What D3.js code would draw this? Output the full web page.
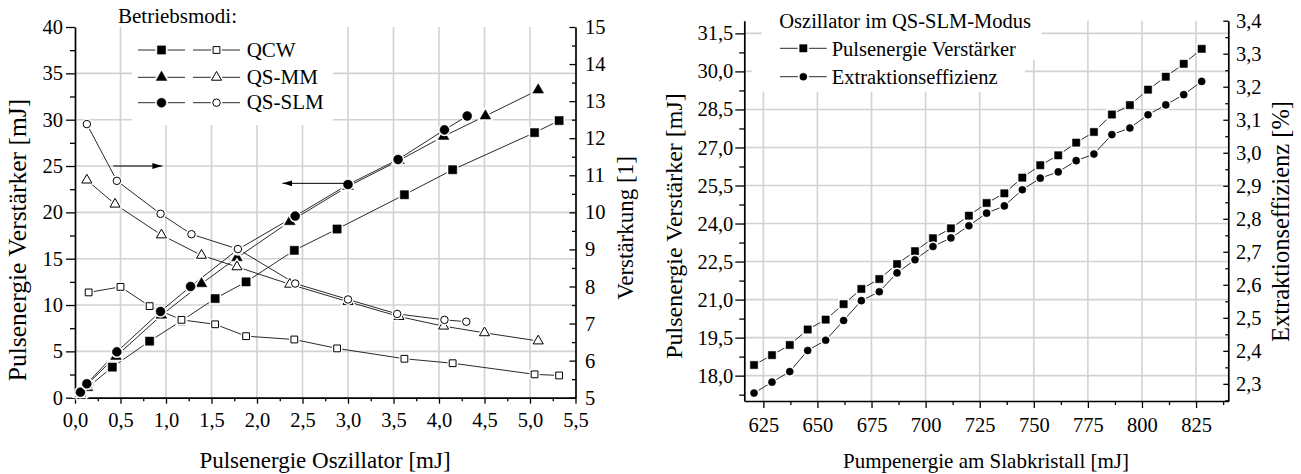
<!DOCTYPE html>
<html><head><meta charset="utf-8">
<script src="https://cdn.jsdelivr.net/npm/d3@7"></script>
<style>
body{margin:0;background:#fff;}
</style></head><body>
<svg id="chart" width="1301" height="474"></svg>
<script>
// ---------- left panel: amplifier output vs. oscillator energy ----------
const oscTicks = [0, 0.5, 1, 1.5, 2, 2.5, 3, 3.5, 4, 4.5, 5, 5.5];
const ampTicksL = [0, 5, 10, 15, 20, 25, 30, 35, 40];
const gainTicks = [5, 6, 7, 8, 9, 10, 11, 12, 13, 14, 15];

const qcwOsc  = [0.07, 0.15, 0.41, 0.82, 1.17, 1.54, 1.88, 2.41, 2.88, 3.62, 4.15, 5.05, 5.32];
const qcwAmp  = [0.35, 1.2, 3.3, 6.1, 8.3, 10.7, 12.5, 15.9, 18.2, 21.9, 24.6, 28.6, 29.9];
const qcwGainOsc = [0.15, 0.50, 0.82, 1.17, 1.54, 1.88, 2.41, 2.88, 3.62, 4.15, 5.05, 5.32];
const qcwGain = [7.84, 7.99, 7.47, 7.10, 6.98, 6.66, 6.57, 6.33, 6.05, 5.93, 5.63, 5.60];

const mmOsc  = [0.06, 0.13, 0.45, 0.95, 1.39, 1.78, 2.36, 3.0, 3.56, 4.05, 4.51, 5.09];
const mmAmp  = [0.5, 1.4, 4.45, 8.9, 12.3, 15.1, 19.0, 22.8, 25.6, 28.2, 30.4, 33.2];
const mmGainOsc = [0.13, 0.44, 0.95, 1.39, 1.78, 2.36, 3.0, 3.56, 4.05, 4.5, 5.09];
const mmGain = [10.87, 10.22, 9.39, 8.84, 8.53, 8.06, 7.59, 7.19, 6.93, 6.75, 6.53];

const slmOsc  = [0.06, 0.13, 0.46, 0.94, 1.27, 1.79, 2.42, 3.0, 3.55, 4.06, 4.31];
const slmAmp  = [0.6, 1.5, 4.95, 9.3, 12.0, 16.0, 19.6, 23.0, 25.7, 28.9, 30.4];
const slmGainOsc = [0.13, 0.46, 0.94, 1.28, 1.79, 2.42, 3.0, 3.54, 4.06, 4.30];
const slmGain = [12.38, 10.85, 9.96, 9.41, 9.01, 8.08, 7.65, 7.26, 7.10, 7.05];

const modeNames = ["QCW", "QS-MM", "QS-SLM"];

// ---------- right panel: QS-SLM oscillator, amplifier vs. pump energy ----------
const pumpTicks = [625, 650, 675, 700, 725, 750, 775, 800, 825];
const ampTicksR = [18, 19.5, 21, 22.5, 24, 25.5, 27, 28.5, 30, 31.5];
const effTicks = [2.3, 2.4, 2.5, 2.6, 2.7, 2.8, 2.9, 3.0, 3.1, 3.2, 3.3, 3.4];

const pumpEnergy = [620.7, 629.0, 637.2, 645.5, 653.8, 662.1, 670.3, 678.6, 686.8, 695.1,
  703.4, 711.7, 720.0, 728.2, 736.4, 744.7, 753.0, 761.3, 769.6, 777.8, 786.1, 794.4,
  802.8, 811.0, 819.3, 827.6];
const ampEnergy = [18.42, 18.81, 19.21, 19.82, 20.21, 20.82, 21.42, 21.81, 22.40, 22.91,
  23.42, 23.81, 24.31, 24.81, 25.19, 25.81, 26.30, 26.69, 27.19, 27.61, 28.30, 28.67,
  29.28, 29.79, 30.30, 30.89];
const extraction = [2.272, 2.305, 2.337, 2.401, 2.432, 2.492, 2.552, 2.579, 2.636, 2.676,
  2.716, 2.742, 2.779, 2.817, 2.839, 2.888, 2.923, 2.942, 2.976, 2.996, 3.055, 3.075,
  3.115, 3.145, 3.176, 3.216];

const svg = d3.select("#chart");
const FONT = "'Liberation Serif', 'Times New Roman', Tinos";
const GRID = "#d2d2d2", INK = "#000", LINE = "#2a2a2a";
const TICK_FS = 20.5;
const comma1 = d => d3.format(".1f")(d).replace(".", ",");
const int0 = d => d3.format("d")(d);
const minorBetween = (ticks, lo, hi) => {
  const step = ticks[1] - ticks[0], out = [];
  for (let t = ticks[0] - step / 2; t <= hi + 1e-9; t += step) if (t >= lo - 1e-9) out.push(+t.toFixed(4));
  return out;
};

function addAxis(maker, tx, ty, scale, major, minor, fmt, majLen, minLen, pad, fs) {
  const gm = svg.append("g").attr("transform", `translate(${tx},${ty})`)
    .call(maker(scale).tickValues(minor).tickSize(minLen).tickSizeOuter(0).tickFormat(""));
  gm.select(".domain").remove();
  gm.selectAll("line").attr("stroke", INK).attr("stroke-width", 1.3);
  const g = svg.append("g").attr("transform", `translate(${tx},${ty})`)
    .call(maker(scale).tickValues(major).tickSize(majLen).tickSizeOuter(0).tickPadding(pad).tickFormat(fmt));
  g.attr("font-family", null).attr("font-size", null);
  g.select(".domain").attr("stroke", INK).attr("stroke-width", 1.7);
  g.selectAll("line").attr("stroke", INK).attr("stroke-width", 1.3);
  g.selectAll("text").attr("fill", INK).style("font-family", FONT).style("font-size", fs + "px");
  return g;
}

function drawLine(xs, ys, sx, sy) {
  svg.append("path")
    .attr("d", d3.line()(xs.map((x, i) => [sx(x), sy(ys[i])])))
    .attr("fill", "none").attr("stroke", LINE).attr("stroke-width", 1);
}
function drawMarks(xs, ys, sx, sy, type, size, filled) {
  const sym = d3.symbol().type(type).size(size);
  const g = svg.append("g");
  xs.forEach((x, i) => {
    const t = `translate(${sx(x)},${sy(ys[i])})`;
    g.append("path").attr("d", sym()).attr("transform", t)
      .attr("fill", "#fff").attr("stroke", "#fff").attr("stroke-width", 3.5);
    g.append("path").attr("d", sym()).attr("transform", t)
      .attr("fill", filled ? INK : "#fff").attr("stroke", INK).attr("stroke-width", filled ? 0.5 : 1);
  });
}
function legendItem(x0, x1, y, type, size, filled) {
  svg.append("line").attr("x1", x0).attr("x2", x1).attr("y1", y).attr("y2", y)
    .attr("stroke", LINE).attr("stroke-width", 1);
  const cx = (x0 + x1) / 2;
  svg.append("path").attr("d", d3.symbol().type(type).size(size)())
    .attr("transform", `translate(${cx},${y})`)
    .attr("fill", "#fff").attr("stroke", "#fff").attr("stroke-width", 4);
  svg.append("path").attr("d", d3.symbol().type(type).size(size)())
    .attr("transform", `translate(${cx},${y})`)
    .attr("fill", filled ? INK : "#fff").attr("stroke", INK).attr("stroke-width", filled ? 0.5 : 1);
}
function label(x, y, txt, fs, opts = {}) {
  const t = svg.append("text").attr("x", x).attr("y", y)
    .style("font-family", FONT).style("font-size", fs + "px")
    .attr("fill", INK).attr("text-anchor", opts.anchor || "start").text(txt);
  if (opts.rotate) t.attr("transform", `rotate(-90,${x},${y})`);
  return t;
}

// ===================== left panel =====================
const xL = d3.scaleLinear().domain([0, 5.5]).range([75, 575.5]);
const yL = d3.scaleLinear().domain([0, 40]).range([397.7, 27]);
const yG = d3.scaleLinear().domain([5, 15]).range([397.7, 27]);

oscTicks.slice(1, -1).forEach(v => svg.append("line")
  .attr("x1", xL(v)).attr("x2", xL(v)).attr("y1", yL(40)).attr("y2", yL(0))
  .attr("stroke", GRID).attr("stroke-width", 1.6));
ampTicksL.slice(1, -1).forEach(v => svg.append("line")
  .attr("x1", xL(0)).attr("x2", xL(5.5)).attr("y1", yL(v)).attr("y2", yL(v))
  .attr("stroke", GRID).attr("stroke-width", 1.6));

// legend background
svg.append("rect").attr("x", 132).attr("y", 26).attr("width", 201).attr("height", 99).attr("fill", "#fff");

addAxis(d3.axisBottom, 0, yL(0), xL, oscTicks, minorBetween(oscTicks, 0, 5.5), comma1, 6, 3.5, 9, TICK_FS);
addAxis(d3.axisLeft, xL(0), 0, yL, ampTicksL, minorBetween(ampTicksL, 0, 40), int0, 9, 5, 3, TICK_FS);
addAxis(d3.axisRight, xL(5.5), 0, yG, gainTicks, minorBetween(gainTicks, 5, 15), int0, -6, -3.5, 9.5, TICK_FS);

drawLine(qcwOsc, qcwAmp, xL, yL);
drawLine(mmOsc, mmAmp, xL, yL);
drawLine(slmOsc, slmAmp, xL, yL);
drawLine(qcwGainOsc, qcwGain, xL, yG);
drawLine(mmGainOsc, mmGain, xL, yG);
drawLine(slmGainOsc, slmGain, xL, yG);

drawMarks(qcwOsc, qcwAmp, xL, yL, d3.symbolSquare, 68, true);
drawMarks(mmOsc, mmAmp, xL, yL, d3.symbolTriangle, 50, true);
drawMarks(slmOsc, slmAmp, xL, yL, d3.symbolCircle, 64, true);
drawMarks(qcwGainOsc, qcwGain, xL, yG, d3.symbolSquare, 46, false);
drawMarks(mmGainOsc, mmGain, xL, yG, d3.symbolTriangle, 44, false);
drawMarks(slmGainOsc, slmGain, xL, yG, d3.symbolCircle, 44, false);

// arrows pointing to the axis each group belongs to
const defs = svg.append("defs");
defs.append("marker").attr("id", "head").attr("viewBox", "0 0 10 6")
  .attr("refX", 10).attr("refY", 3).attr("markerWidth", 10).attr("markerHeight", 6)
  .attr("markerUnits", "userSpaceOnUse").attr("orient", "auto")
  .append("path").attr("d", "M0,0L10,3L0,6Z").attr("fill", INK);
svg.append("line").attr("x1", xL(0.42)).attr("x2", xL(0.96)).attr("y1", yL(25)).attr("y2", yL(25))
  .attr("stroke", INK).attr("stroke-width", 1).attr("marker-end", "url(#head)");
svg.append("line").attr("x1", xL(2.99)).attr("x2", xL(2.28)).attr("y1", yL(23.13)).attr("y2", yL(23.13))
  .attr("stroke", INK).attr("stroke-width", 1).attr("marker-end", "url(#head)");

// legend
label(118, 23.3, "Betriebsmodi:", 21);
const legRows = [50, 77.3, 102.7];
const legTypes = [d3.symbolSquare, d3.symbolTriangle, d3.symbolCircle];
const legFilledSize = [68, 50, 64], legOpenSize = [46, 44, 44];
modeNames.forEach((name, i) => {
  legendItem(138, 185, legRows[i], legTypes[i], legFilledSize[i], true);
  legendItem(193, 240, legRows[i], legTypes[i], legOpenSize[i], false);
  label(246.7, legRows[i] + 6.7, name, 21);
});

label(325, 468.3, "Pulsenergie Oszillator [mJ]", 23, {anchor: "middle"});
label(26, 240, "Pulsenergie Verstärker [mJ]", 25.5, {anchor: "middle", rotate: true});
label(633, 228, "Verstärkung [1]", 23, {anchor: "middle", rotate: true});

// ===================== right panel =====================
const xR = d3.scaleLinear().domain([616.2, 839.9]).range([744.3, 1228.3]);
const yR = d3.scaleLinear().domain([17, 32]).range([401, 20.7]);
const yE = d3.scaleLinear().domain([2.248, 3.4]).range([401, 20.7]);

pumpTicks.forEach(v => svg.append("line")
  .attr("x1", xR(v)).attr("x2", xR(v)).attr("y1", yR(32)).attr("y2", yR(17))
  .attr("stroke", GRID).attr("stroke-width", 1.6));
ampTicksR.forEach(v => svg.append("line")
  .attr("x1", xR(616.2)).attr("x2", xR(839.9)).attr("y1", yR(v)).attr("y2", yR(v))
  .attr("stroke", GRID).attr("stroke-width", 1.6));

svg.append("rect").attr("x", 761.7).attr("y", 10).attr("width", 280).attr("height", 50).attr("fill", "#fff");
svg.append("rect").attr("x", 751.7).attr("y", 60).attr("width", 273.3).attr("height", 31.7).attr("fill", "#fff");

addAxis(d3.axisBottom, 0, yR(17), xR, pumpTicks, minorBetween(pumpTicks, 616.2, 839.9), int0, 7, 4, 9.5, TICK_FS);
addAxis(d3.axisLeft, xR(616.2), 0, yR, ampTicksR, minorBetween(ampTicksR, 17, 32), comma1, 9, 5, 2, TICK_FS);
addAxis(d3.axisRight, xR(839.9), 0, yE, effTicks, minorBetween(effTicks, 2.248, 3.4), comma1, -5, -3, 7.7, TICK_FS);

drawLine(pumpEnergy, ampEnergy, xR, yR);
drawLine(pumpEnergy, extraction, xR, yE);
drawMarks(pumpEnergy, ampEnergy, xR, yR, d3.symbolSquare, 54, true);
drawMarks(pumpEnergy, extraction, xR, yE, d3.symbolCircle, 40, true);

label(779.3, 28.3, "Oszillator im QS-SLM-Modus", 20.5);
legendItem(780, 826.7, 48.3, d3.symbolSquare, 54, true);
label(831.7, 55.5, "Pulsenergie Verstärker", 20.5);
legendItem(780, 826.7, 76.7, d3.symbolCircle, 40, true);
label(831.7, 83.5, "Extraktionseffizienz", 20.5);

label(986, 468.3, "Pumpenergie am Slabkristall [mJ]", 21, {anchor: "middle"});
label(682, 226, "Pulsenergie Verstärker [mJ]", 24, {anchor: "middle", rotate: true});
label(1288.5, 221.5, "Extraktionseffizienz [%]", 24.5, {anchor: "middle", rotate: true});
</script>
</body></html>
